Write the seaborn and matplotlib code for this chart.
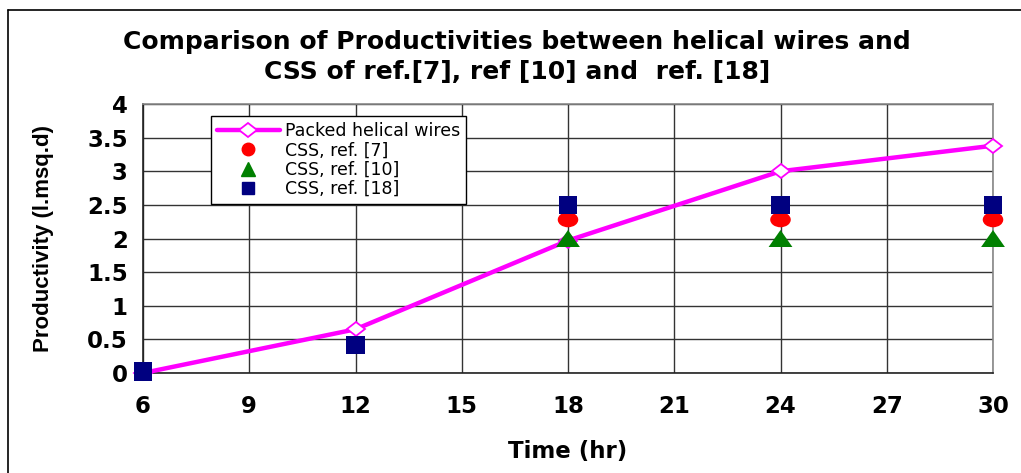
import numpy as np
import pandas as pd
import matplotlib
matplotlib.use("Agg")
import matplotlib.pyplot as plt
from matplotlib.markers import MarkerStyle
from matplotlib.transforms import Affine2D
from matplotlib.lines import Line2D
import seaborn as sns

# data
time_helical = [6, 12, 18, 24, 30]
prod_helical = [0.0, 0.65, 1.97, 3.0, 3.38]

time_ref7 = [18, 24, 30]
prod_ref7 = [2.28, 2.28, 2.28]

time_ref10 = [18, 24, 30]
prod_ref10 = [2.0, 2.0, 2.0]

time_ref18 = [6, 12, 18, 24, 30]
prod_ref18 = [0.02, 0.42, 2.5, 2.5, 2.5]

x_ticks = [6, 9, 12, 15, 18, 21, 24, 27, 30]
y_ticks = [0, 0.5, 1, 1.5, 2, 2.5, 3, 3.5, 4]
y_ticklabels = ["0", "0.5", "1", "1.5", "2", "2.5", "3", "3.5", "4"]

sns.set_style("white")
plt.rcParams["font.family"] = ["DejaVu Sans"]
plt.rcParams["text.color"] = "black"
plt.rcParams["axes.labelcolor"] = "black"
plt.rcParams["xtick.color"] = "black"
plt.rcParams["ytick.color"] = "black"

fig = plt.figure(figsize=(10.21, 4.73), dpi=100)
ax = fig.add_axes([143 / 1021, 1 - 373 / 473, 850 / 1021, 269 / 473])

diamond = MarkerStyle("D", transform=Affine2D().scale(1.0, 0.72))
ellipse = MarkerStyle("o", transform=Affine2D().scale(1.35, 1.0))
triangle = MarkerStyle("^", transform=Affine2D().scale(1.4, 1.0))

df_hel = pd.DataFrame({"time": time_helical, "prod": prod_helical})
df7 = pd.DataFrame({"time": time_ref7, "prod": prod_ref7})
df10 = pd.DataFrame({"time": time_ref10, "prod": prod_ref10})
df18 = pd.DataFrame({"time": time_ref18, "prod": prod_ref18})

sns.lineplot(data=df_hel, x="time", y="prod", ax=ax, color="#FF00FF", lw=3.2,
             marker=diamond, markersize=9.5, markerfacecolor="white",
             markeredgecolor="#FF00FF", markeredgewidth=1.3, zorder=3, clip_on=False)
sns.scatterplot(data=df7, x="time", y="prod", ax=ax, marker=ellipse, s=120,
                color="#FF0000", edgecolor="none", zorder=4, clip_on=False)
sns.scatterplot(data=df10, x="time", y="prod", ax=ax, marker=triangle, s=150,
                color="#008000", edgecolor="none", zorder=5, clip_on=False)
sns.scatterplot(data=df18, x="time", y="prod", ax=ax, marker="s", s=175,
                color="#000080", edgecolor="none", zorder=6, clip_on=False)

ax.set_xlim(6, 30)
ax.set_ylim(0, 4)
ax.set_xticks(x_ticks)
ax.set_yticks(y_ticks)
ax.set_yticklabels(y_ticklabels)
ax.grid(True, color="#333333", lw=1.0)
ax.tick_params(axis="both", direction="out", length=6, width=1, color="#333333",
               labelsize=16.5)
ax.tick_params(axis="x", pad=10)
ax.tick_params(axis="y", pad=5)
for lbl in ax.get_xticklabels() + ax.get_yticklabels():
    lbl.set_fontweight("bold")
for side in ["left", "bottom"]:
    ax.spines[side].set_color("#222222")
for side in ["top", "right"]:
    ax.spines[side].set_color("#888888")
for sp in ax.spines.values():
    sp.set_linewidth(1.2)

ax.set_xlabel("Time (hr)", fontsize=16.5, fontweight="bold", labelpad=16)
ax.set_ylabel("Productivity (l.msq.d)", fontsize=16, fontweight="bold", labelpad=24,
              family=["Liberation Sans", "DejaVu Sans"])

fig.text(517 / 1021, 1 - 42 / 473,
         "Comparison of Productivities between helical wires and",
         ha="center", va="center", fontsize=18, fontweight="bold")
fig.text(517 / 1021, 1 - 72 / 473,
         "CSS of ref.[7], ref [10] and  ref. [18]",
         ha="center", va="center", fontsize=18, fontweight="bold")

handles = [
    Line2D([], [], color="#FF00FF", lw=3.2, marker=diamond, markersize=9.5,
           markerfacecolor="white", markeredgecolor="#FF00FF", markeredgewidth=1.3),
    Line2D([], [], ls="none", marker="o", markersize=9, color="#FF0000"),
    Line2D([], [], ls="none", marker="^", markersize=10, color="#008000"),
    Line2D([], [], ls="none", marker="s", markersize=8, color="#000080"),
]
labels = ["Packed helical wires", "CSS, ref. [7]", "CSS, ref. [10]", "CSS, ref. [18]"]
leg = ax.legend(handles, labels, loc="upper left", bbox_to_anchor=(0.08, 0.956),
                fontsize=12.5, frameon=True, fancybox=False, edgecolor="black",
                framealpha=1, handlelength=3.6, labelspacing=0.08, borderpad=0.35,
                handletextpad=0.3, borderaxespad=0)
leg.get_frame().set_linewidth(1.0)

# outer chart border
fig.add_artist(Line2D([8 / 1021, 1.0], [1 - 10 / 473, 1 - 10 / 473],
                      transform=fig.transFigure, color="black", lw=1.2))
fig.add_artist(Line2D([8 / 1021, 8 / 1021], [0.0, 1 - 10 / 473],
                      transform=fig.transFigure, color="black", lw=1.2))

fig.savefig("out.png", dpi=100)
